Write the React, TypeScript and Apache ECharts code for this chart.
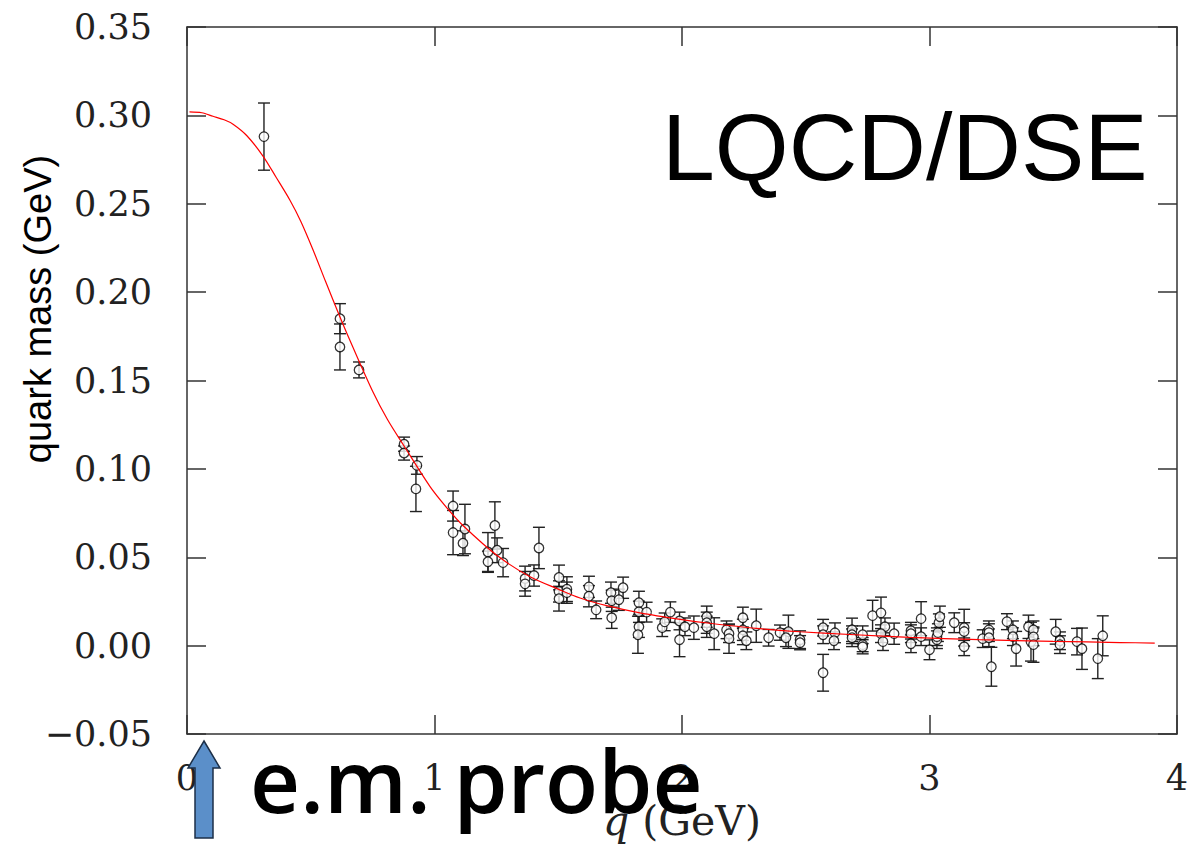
import React, { useEffect, useRef } from "react";
import * as echarts from "echarts";

// lattice data: momentum q (GeV), quark mass (GeV), error (GeV)
const qValues = [
  0.311, 0.618, 0.618, 0.695, 0.877, 0.877, 0.929, 0.925, 1.075, 1.075,
  1.123, 1.115, 1.244, 1.216, 1.216, 1.253, 1.277, 1.422, 1.366, 1.366,
  1.402, 1.503, 1.503, 1.503, 1.535, 1.535, 1.624, 1.624, 1.653, 1.713,
  1.716, 1.716, 1.745, 1.762, 1.826, 1.826, 1.826, 1.822, 1.857, 1.92,
  1.93, 1.953, 1.99, 1.99, 2.012, 2.048, 2.1, 2.1, 2.1, 2.13,
  2.18, 2.19, 2.19, 2.246, 2.246, 2.246, 2.26, 2.3, 2.35, 2.396,
  2.43, 2.42, 2.477, 2.477, 2.57, 2.57, 2.57, 2.618, 2.614, 2.687,
  2.687, 2.687, 2.73, 2.73, 2.73, 2.77, 2.804, 2.82, 2.804, 2.812,
  2.857, 2.925, 2.925, 2.925, 2.966, 2.966, 3.0, 3.03, 3.03, 3.034,
  3.038, 3.042, 3.1, 3.14, 3.14, 3.14, 3.215, 3.24, 3.24, 3.24,
  3.25, 3.313, 3.337, 3.337, 3.35, 3.4, 3.41, 3.42, 3.42, 3.42,
  3.51, 3.527, 3.527, 3.596, 3.616, 3.68, 3.7,
];
const massValues = [
  0.288, 0.185, 0.169, 0.156, 0.114, 0.109, 0.102, 0.0887, 0.079, 0.064,
  0.066, 0.058, 0.068, 0.053, 0.0475, 0.054, 0.047, 0.0553, 0.038, 0.035,
  0.0397, 0.0386, 0.0307, 0.0266, 0.032, 0.03, 0.0333, 0.028, 0.0203, 0.03,
  0.0254, 0.0158, 0.026, 0.0328, 0.0243, 0.0192, 0.0107, 0.0062, 0.019, 0.0102,
  0.0135, 0.019, 0.014, 0.0034, 0.0107, 0.0102, 0.0164, 0.013, 0.0107, 0.0068,
  0.009, 0.0068, 0.004, 0.0158, 0.009, 0.0056, 0.0028, 0.0113, 0.0045, 0.0074,
  0.0079, 0.0045, 0.0034, 0.0017, 0.0102, 0.0062, -0.0153, 0.0073, 0.0028, 0.009,
  0.0062, 0.0045, 0.0062, 0.0006, -0.0006, 0.017, 0.0186, 0.0107, 0.0068, 0.0023,
  0.0068, 0.0085, 0.0068, 0.0011, 0.0153, 0.0051, -0.0023, 0.0034, 0.0051, 0.0074,
  0.013, 0.0164, 0.013, 0.0102, 0.008, -0.0006, 0.004, 0.009, 0.0074, 0.0045,
  -0.0119, 0.0136, 0.009, 0.0051, -0.0017, 0.0107, 0.0023, 0.009, 0.005, 0.0006,
  0.0079, 0.0028, 0.0006, 0.0023, -0.0017, -0.0073, 0.0056,
];
const errValues = [
  0.019, 0.0085, 0.013, 0.0045, 0.004, 0.004, 0.005, 0.0128, 0.0085, 0.0125,
  0.014, 0.007, 0.0134, 0.011, 0.006, 0.007, 0.008, 0.0117, 0.007, 0.007,
  0.006, 0.007, 0.006, 0.007, 0.007, 0.006, 0.006, 0.006, 0.005, 0.006,
  0.006, 0.006, 0.006, 0.006, 0.0065, 0.006, 0.006, 0.0105, 0.0056, 0.005,
  0.005, 0.0058, 0.005, 0.0096, 0.005, 0.0066, 0.006, 0.006, 0.006, 0.009,
  0.005, 0.005, 0.0083, 0.006, 0.006, 0.005, 0.005, 0.0094, 0.0047, 0.0043,
  0.0094, 0.005, 0.005, 0.004, 0.0047, 0.005, 0.0104, 0.0056, 0.005, 0.0066,
  0.005, 0.005, 0.005, 0.004, 0.004, 0.0087, 0.0089, 0.005, 0.005, 0.005,
  0.006, 0.0047, 0.005, 0.005, 0.0096, 0.005, 0.0056, 0.005, 0.005, 0.005,
  0.005, 0.006, 0.0056, 0.0104, 0.005, 0.005, 0.005, 0.005, 0.005, 0.005,
  0.011, 0.0045, 0.005, 0.005, 0.0098, 0.0066, 0.011, 0.005, 0.005, 0.01,
  0.007, 0.005, 0.005, 0.0075, 0.0117, 0.0113, 0.0113,
];

// DSE curve
const curveQ = [
  0.01, 0.06, 0.105, 0.15, 0.186, 0.242, 0.307, 0.36, 0.416, 0.46, 0.509, 0.56,
  0.618, 0.67, 0.75, 0.81, 0.877, 0.982, 1.05, 1.115, 1.253, 1.386, 1.5, 1.588,
  1.7, 1.83, 2.0, 2.113, 2.3, 2.477, 2.7, 2.92, 3.2, 3.5, 3.77, 3.91,
];
const curveM = [
  0.302, 0.3015, 0.2995, 0.2975, 0.295, 0.2885, 0.277, 0.265, 0.252, 0.24, 0.224, 0.206,
  0.186, 0.169, 0.144, 0.128, 0.113, 0.09, 0.078, 0.068, 0.051, 0.039, 0.032, 0.027,
  0.0225, 0.0186, 0.0148, 0.0127, 0.0098, 0.0079, 0.0062, 0.0047, 0.0034, 0.0025, 0.0018, 0.0015,
];

const xMin = 0;
const xMax = 4;
const xStep = 1;
const yMin = -0.05;
const yMax = 0.35;
const yStep = 0.05;

const SERIF = '"DejaVu Serif", "Liberation Serif", serif';
const SANS = '"Liberation Sans", Arial, sans-serif';

export default function App() {
  const ref = useRef<HTMLDivElement>(null);
  useEffect(() => {
    if (!ref.current) return;
    const chart = echarts.init(ref.current, null, { renderer: "svg" });
    const points = qValues.map((q, i) => [q, massValues[i], errValues[i]]);
    const curve = curveQ.map((q, i) => [q, curveM[i]]);
    const axisColor = "#333";
    const lineStyle = { color: axisColor, width: 1.5 };
    const tick = { show: true, inside: true, length: 19, lineStyle };
    const yFmt = (v: number) =>
      (v < -1e-9 ? "\u2212" : "") + Math.abs(v).toFixed(2);
    chart.setOption({
      animation: false,
      backgroundColor: "#fff",
      grid: { left: 187, right: 22, top: 27, bottom: 111 },
      xAxis: [
        {
          type: "value",
          min: xMin,
          max: xMax,
          interval: xStep,
          position: "bottom",
          axisLine: { show: true, onZero: false, lineStyle },
          axisTick: tick,
          splitLine: { show: false },
          axisLabel: {
            margin: 26,
            fontFamily: SERIF,
            fontSize: 35,
            color: "#222",
          },
          name: "{i|q} {n|(GeV)}",
          nameLocation: "middle",
          nameGap: 58,
          nameTextStyle: {
            fontFamily: SERIF,
            fontSize: 41,
            color: "#222",
            rich: {
              i: { fontFamily: SERIF, fontSize: 41, fontStyle: "italic", color: "#222" },
              n: { fontFamily: SERIF, fontSize: 41, color: "#222" },
            },
          },
        },
        {
          type: "value",
          min: xMin,
          max: xMax,
          interval: xStep,
          position: "top",
          axisLine: { show: true, onZero: false, lineStyle },
          axisTick: tick,
          axisLabel: { show: false },
          splitLine: { show: false },
        },
      ],
      yAxis: [
        {
          type: "value",
          min: yMin,
          max: yMax,
          interval: yStep,
          position: "left",
          axisLine: { show: true, onZero: false, lineStyle },
          axisTick: tick,
          splitLine: { show: false },
          axisLabel: {
            margin: 35,
            fontFamily: SERIF,
            fontSize: 35,
            color: "#222",
            formatter: yFmt,
          },
        },
        {
          type: "value",
          min: yMin,
          max: yMax,
          interval: yStep,
          position: "right",
          axisLine: { show: true, onZero: false, lineStyle },
          axisTick: tick,
          axisLabel: { show: false },
          splitLine: { show: false },
        },
      ],
      series: [
        {
          type: "custom",
          data: points,
          encode: { x: 0, y: 1 },
          z: 2,
          renderItem: (params: any, api: any) => {
            const q = api.value(0);
            const m = api.value(1);
            const e = api.value(2);
            const top = api.coord([q, m + e]);
            const bot = api.coord([q, m - e]);
            const cap = 6;
            const style = { stroke: "#222", lineWidth: 1.4 };
            return {
              type: "group",
              children: [
                { type: "line", shape: { x1: top[0], y1: top[1], x2: bot[0], y2: bot[1] }, style },
                { type: "line", shape: { x1: top[0] - cap, y1: top[1], x2: top[0] + cap, y2: top[1] }, style },
                { type: "line", shape: { x1: bot[0] - cap, y1: bot[1], x2: bot[0] + cap, y2: bot[1] }, style },
              ],
            };
          },
        },
        {
          type: "scatter",
          data: points.map((p) => [p[0], p[1]]),
          symbol: "circle",
          symbolSize: 9.5,
          itemStyle: { color: "#fff", borderColor: "#000", borderWidth: 1.3 },
          z: 3,
        },
        {
          type: "line",
          data: curve,
          smooth: 0.3,
          showSymbol: false,
          lineStyle: { color: "#ff0000", width: 1.2 },
          z: 4,
        },
      ],
      graphic: [
        {
          type: "text",
          x: 38,
          y: 309,
          rotation: Math.PI / 2,
          style: {
            text: "quark mass (GeV)",
            fontFamily: SANS,
            fontSize: 38,
            fill: "#000",
            align: "center",
            verticalAlign: "middle",
          },
        },
        {
          type: "text",
          x: 662,
          y: 147,
          style: {
            text: "LQCD/DSE",
            fontFamily: SANS,
            fontSize: 95,
            fill: "#000",
            align: "left",
            verticalAlign: "middle",
          },
        },
        {
          type: "polygon",
          shape: {
            points: [
              [204, 741],
              [220, 768],
              [213, 768],
              [213, 838],
              [195, 838],
              [195, 768],
              [188, 768],
            ],
          },
          style: { fill: "#5b8fc9", stroke: "#1c2f48", lineWidth: 1.5 },
          z: 10,
        },
        {
          type: "text",
          x: 250,
          y: 779,
          style: {
            text: "e.m. probe",
            fontFamily: '"Comic Sans MS", "Open Sans", sans-serif',
            fontWeight: 600,
            fontSize: 87,
            fill: "#000",
            align: "left",
            verticalAlign: "middle",
          },
          z: 10,
        },
      ],
    });
    return () => chart.dispose();
  }, []);
  return (
    <div
      ref={ref}
      style={{ position: "fixed", left: 0, top: 0, width: 1199, height: 846 }}
    />
  );
}
